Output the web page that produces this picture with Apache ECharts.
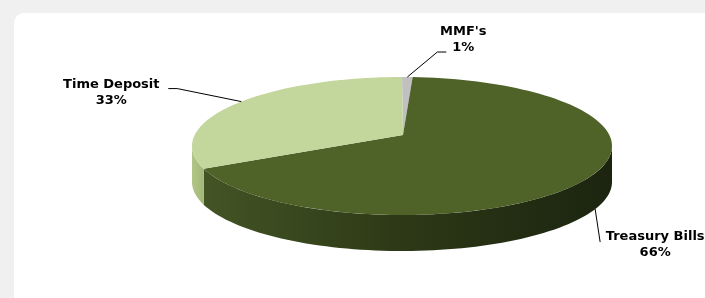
<!DOCTYPE html>
<html>
<head>
<meta charset="utf-8">
<script src="https://cdn.jsdelivr.net/npm/echarts@6/dist/echarts.min.js"></script>
<style>
html, body { margin: 0; padding: 0; background: #f0f0f0; }
#main { width: 705px; height: 298px; }
</style>
</head>
<body>
<div id="main"></div>
<script>
var categories = ["MMF's", 'Treasury Bills', 'Time Deposit'];
var shares = [1, 66, 33];

var topColors = ['#c0c0c0', '#4f6228', '#c3d69b'];
var sideColors = [
	['#a6a6a6', '#8c8c8c'],
	['#435425', '#2c3816', '#1c2410'],
	['#b1c587', '#a2b878']
];

// ellipse of the top face, thickness, perspective tweaks
var pie = { cx: 402, cy: 146, rx: 210, ry: 69, depth: 36, lift: 11, persp: 11 };

// leader line points and label centre, offsets from each slice's rim point
var labelSpots = [
	{ line: [[30, -25], [39, -25]], text: [56, -37] },
	{ line: [[5, 33]], text: [60, 36] },
	{ line: [[-64, -13], [-73, -13]], text: [-130, -9] }
];

var total = shares.reduce(function(a, b) { return a + b; }, 0);
var slices = [];
var acc = 0;
shares.forEach(function(v, i) {
	var a1 = acc / total * 360;
	acc += v;
	slices.push({ a1: a1, a2: acc / total * 360, pct: Math.round(v / total * 100) });
});

function rad(d) { return d * Math.PI / 180; }
// front of the disc looks a bit bigger than the back
function warp(a) { return a - pie.persp * Math.sin(rad(a)); }
function rim(phi, drop) {
	return [pie.cx + pie.rx * Math.sin(rad(phi)), pie.cy - pie.ry * Math.cos(rad(phi)) + drop];
}
function arc(p1, p2, drop) {
	var pts = [];
	var n = Math.max(2, Math.ceil(Math.abs(p2 - p1) / 2));
	for (var k = 0; k <= n; k++) {
		pts.push(rim(p1 + (p2 - p1) * k / n, drop));
	}
	return pts;
}

var seriesData = categories.map(function(c, i) {
	return { name: c, value: shares[i] };
});

var myChart = echarts.init(document.getElementById('main'));
var option = {
	backgroundColor: '#f0f0f0',
	animation: false,
	graphic: [{
		type: 'rect',
		left: 14,
		top: 13,
		z: 0,
		silent: true,
		shape: { width: 700, height: 300, r: 10 },
		style: { fill: '#ffffff' }
	}],
	series: [{
		// sides of the disc
		type: 'custom',
		coordinateSystem: 'none',
		z: 2,
		data: seriesData,
		renderItem: function(params, api) {
			var s = slices[params.dataIndex];
			var p1 = Math.max(warp(s.a1), 90);
			var p2 = Math.min(warp(s.a2), 270);
			if (p1 >= p2) return { type: 'group', children: [] };
			var pts = arc(p1, p2, 0).concat(arc(p2, p1, pie.depth));
			var cols = sideColors[params.dataIndex];
			var stops = cols.map(function(c, k) {
				return { offset: k / (cols.length - 1), color: c };
			});
			return {
				type: 'polygon',
				shape: { points: pts },
				style: { fill: new echarts.graphic.LinearGradient(0, 0, 1, 0, stops) }
			};
		}
	}, {
		// top faces
		type: 'custom',
		coordinateSystem: 'none',
		z: 3,
		data: seriesData,
		renderItem: function(params, api) {
			var s = slices[params.dataIndex];
			var pts = [[pie.cx + 1, pie.cy - pie.lift]].concat(arc(warp(s.a1), warp(s.a2), 0));
			return {
				type: 'polygon',
				shape: { points: pts },
				style: { fill: topColors[params.dataIndex] }
			};
		}
	}, {
		// labels with leader lines
		type: 'custom',
		coordinateSystem: 'none',
		z: 4,
		data: seriesData,
		renderItem: function(params, api) {
			var i = params.dataIndex;
			var s = slices[i];
			var phi = warp((s.a1 + s.a2) / 2);
			var drop = (phi > 90 && phi < 270) ? pie.depth : 0;
			var p = rim(phi, drop);
			var spot = labelSpots[i];
			var line = [p].concat(spot.line.map(function(o) { return [p[0] + o[0], p[1] + o[1]]; }));
			return {
				type: 'group',
				children: [{
					type: 'polyline',
					shape: { points: line },
					style: { stroke: '#000', lineWidth: 1, fill: null }
				}, {
					type: 'text',
					x: p[0] + spot.text[0],
					y: p[1] + spot.text[1],
					style: {
						text: categories[i] + '\n' + s.pct + '%',
						fill: '#000',
						fontFamily: 'DejaVu Sans',
						fontWeight: 'bold',
						fontSize: 13,
						lineHeight: 16,
						align: 'center',
						verticalAlign: 'middle'
					}
				}]
			};
		}
	}]
};
myChart.setOption(option);
window.addEventListener('resize', function() {
	myChart.resize();
});
</script>
</body>
</html>
